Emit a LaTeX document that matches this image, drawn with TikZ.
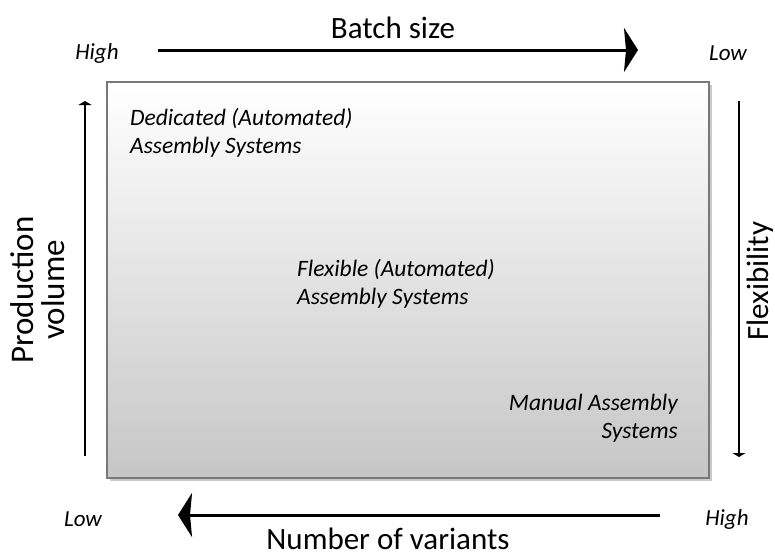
\documentclass[tikz,border=0pt]{standalone}
\usepackage{fontspec}
\setmainfont{Carlito}
\usetikzlibrary{arrows.meta,shadows}
\definecolor{frame}{RGB}{120,120,120}
\definecolor{boxbottom}{RGB}{198,198,198}
\tikzset{
  axislabel/.style={font=\fontsize{31}{33}\selectfont, inner sep=0pt},
  endlabel/.style={font=\fontsize{23}{26}\selectfont\itshape, inner sep=0pt},
  zonelabel/.style={font=\fontsize{23.5}{28}\selectfont\itshape, align=left, inner sep=0pt},
  bigarrow/.style={line width=3pt, -{Stealth[length=14pt,width=44pt,inset=2pt]}},
  thinarrow/.style={line width=1.5pt, -{Triangle[length=4pt,width=13pt]}},
}
\begin{document}
\begin{tikzpicture}[x=1pt,y=-1pt]
\useasboundingbox (0,0) rectangle (775,557);

% the field
\node[draw=frame, line width=1.5pt, minimum width=602pt, minimum height=396pt,
      top color=white, bottom color=boxbottom,
      drop shadow={shadow xshift=3pt, shadow yshift=-3pt, fill=black!35, opacity=0.6}]
  (field) at (408,280) {};

% zone labels inside the field
\node[zonelabel, anchor=north west] (dedicated) at (130,108) {Dedicated (Automated)\\Assembly Systems};
\node[zonelabel, anchor=north west] (flexible) at (297,259) {Flexible (Automated)\\Assembly Systems};
\node[zonelabel, align=right, anchor=north east] (manual) at (678,394) {Manual Assembly\\Systems};

% batch size axis (top)
\coordinate (bsA) at (158,50);
\coordinate (bsB) at (638,50);
\draw[bigarrow] (bsA) -- (bsB);
\node[axislabel] (batch) at (393,28) {Batch size};
\node[endlabel] (bshigh) at (97,53) {High};
\node[endlabel] (bslow) at (728,53) {Low};

% number of variants axis (bottom)
\coordinate (nvA) at (660,515);
\coordinate (nvB) at (178,515);
\draw[bigarrow] (nvA) -- (nvB);
\node[axislabel] (variants) at (388,539) {Number of variants};
\node[endlabel] (nvlow) at (83,519) {Low};
\node[endlabel] (nvhigh) at (727,519) {High};

% production volume axis (left)
\coordinate (pvA) at (85,456);
\coordinate (pvB) at (85,101);
\draw[thinarrow] (pvA) -- (pvB);
\node[axislabel, rotate=90, align=center, font=\fontsize{33}{31}\selectfont] (volume) at (38,290) {Production\\volume};

% flexibility axis (right)
\coordinate (flA) at (739,101);
\coordinate (flB) at (739,457);
\draw[thinarrow] (flA) -- (flB);
\node[axislabel, rotate=90] (flex) at (760,281) {Flexibility};
\end{tikzpicture}
\end{document}
